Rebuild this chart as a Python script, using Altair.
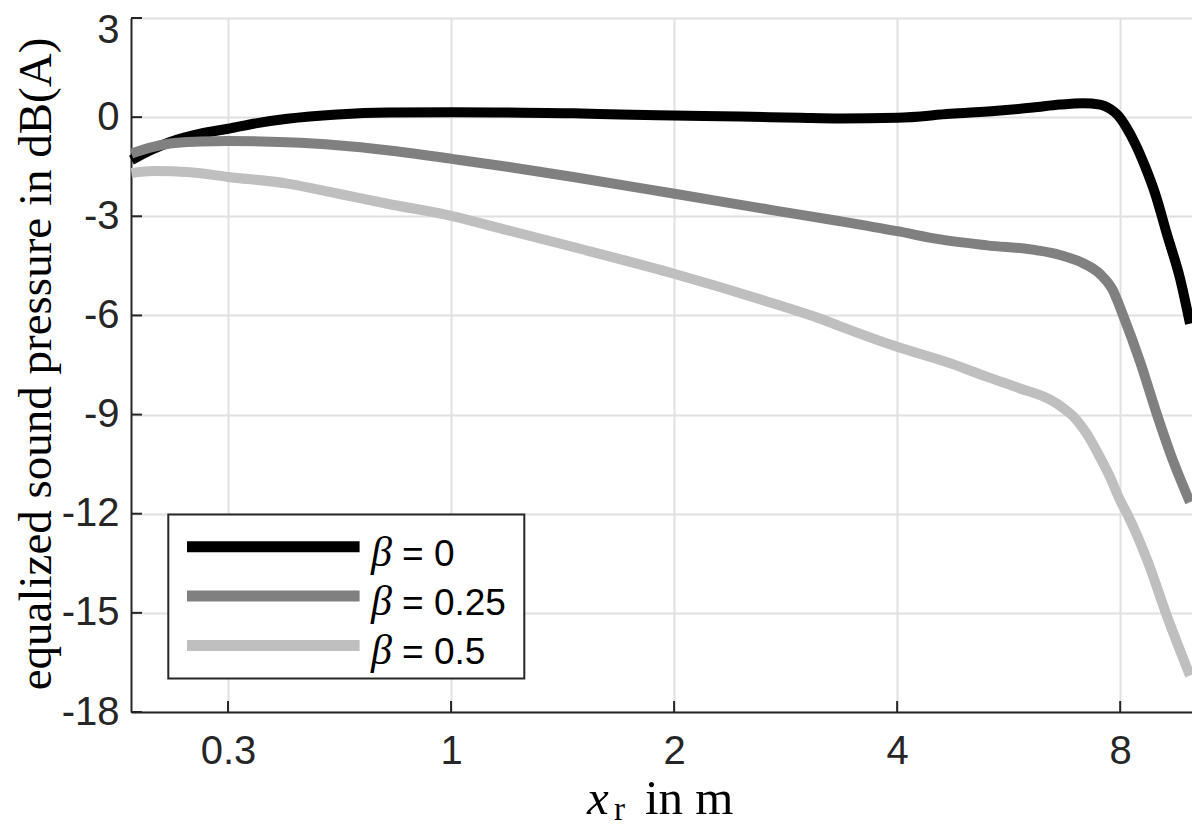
import altair as alt
import pandas as pd

# ---------------- data ----------------
betas = ["0", "0.25", "0.5"]
colors = ["#000000", "#808080", "#bfbfbf"]

# x positions in axis units (tick i sits at position i)
x_tick_pos = [0, 1, 2, 3, 4]
x_tick_labels = ["0.3", "1", "2", "4", "8"]
y_ticks = [-18, -15, -12, -9, -6, -3, 0, 3]

b0_x = [-0.433, -0.348, -0.259, -0.124, 0.0, 0.131, 0.266, 0.49, 0.714, 1.01,
        1.252, 1.548, 1.758, 1.996, 2.296, 2.566, 2.745, 3.0, 3.238, 3.462,
        3.609, 3.73, 3.834, 3.91, 3.955, 3.991, 4.027, 4.067, 4.112, 4.156,
        4.21, 4.269, 4.313]
b0_y = [-1.3, -1.0, -0.75, -0.5, -0.35, -0.18, -0.05, 0.08, 0.14, 0.15,
        0.14, 0.12, 0.08, 0.05, 0.02, -0.02, -0.04, -0.02, 0.1, 0.2,
        0.29, 0.38, 0.42, 0.38, 0.25, 0.05, -0.3, -0.8, -1.5, -2.3,
        -3.55, -4.9, -6.25]

b25_x = [-0.433, -0.335, -0.259, -0.124, 0.0, 0.266, 0.49, 0.714, 1.01, 1.252,
         1.548, 1.996, 2.446, 2.745, 3.0, 3.193, 3.403, 3.627, 3.73, 3.834,
         3.91, 3.964, 4.013, 4.089, 4.165, 4.237, 4.313]
b25_y = [-1.1, -0.9, -0.8, -0.74, -0.72, -0.76, -0.85, -1.0, -1.27, -1.5,
         -1.81, -2.31, -2.82, -3.15, -3.45, -3.7, -3.88, -4.03, -4.17, -4.42,
         -4.75, -5.2, -6.0, -7.4, -9.0, -10.4, -11.65]

b50_x = [-0.433, -0.335, -0.169, 0.0, 0.266, 0.49, 0.714, 1.01, 1.252, 1.548,
         1.996, 2.446, 2.656, 2.745, 3.0, 3.238, 3.403, 3.551, 3.686, 3.744,
         3.789, 3.852, 3.91, 3.955, 4.0, 4.031, 4.121, 4.21, 4.313]
b50_y = [-1.69, -1.63, -1.67, -1.81, -2.01, -2.31, -2.62, -3.0, -3.42, -3.93,
         -4.73, -5.64, -6.1, -6.33, -6.95, -7.45, -7.86, -8.21, -8.55, -8.8,
         -9.05, -9.6, -10.3, -10.9, -11.6, -12.0, -13.4, -15.1, -16.9]

series_x = [b0_x, b25_x, b50_x]
series_y = [b0_y, b25_y, b50_y]

# ---------------- layout ----------------
W, H = 1061, 694
AX = "#262626"
SANS = "Liberation Sans"
SERIF = "Liberation Serif"

xscale = alt.Scale(domain=[-0.435, 4.322], nice=False, zero=False)
yscale = alt.Scale(domain=[-18, 3], nice=False, zero=False)

label_expr = "[" + ",".join(f"'{l}'" for l in x_tick_labels) + "][datum.value]"

xaxis = alt.Axis(values=x_tick_pos, labelExpr=label_expr, title=None,
                 ticks=False, tickSize=0, labelPadding=19, labelFontSize=40,
                 labelFont=SANS, labelColor=AX, grid=True, domain=True,
                 labelFlush=False, labelOverlap=False)
yaxis = alt.Axis(values=y_ticks, labelExpr="'' + datum.value", title=None,
                 ticks=False, tickSize=0, labelPadding=12, labelFontSize=40,
                 labelFont=SANS, labelColor=AX, grid=True, domain=True,
                 labelOverlap=False, labelFlush=False,
                 labelOffset={"condition": {"test": "datum.value == 3", "value": 12},
                              "value": 0})


def X(field):
    return alt.X(field, type="quantitative", scale=xscale, axis=xaxis)


def Y(field):
    return alt.Y(field, type="quantitative", scale=yscale, axis=yaxis)


layers = []
for b, c, xs, ys in zip(betas, colors, series_x, series_y):
    df = pd.DataFrame({"x": xs, "y": ys, "beta": b})
    layers.append(
        alt.Chart(df).mark_line(color=c, strokeWidth=10, interpolate="monotone",
                                strokeCap="butt", strokeJoin="round")
        .encode(x=X("x"), y=Y("y"))
    )

# inward tick marks (MATLAB style)
xt = pd.DataFrame({"t": x_tick_pos})
layers.append(
    alt.Chart(xt).mark_rule(color=AX, strokeWidth=2)
    .encode(x=X("t"), y=alt.value(H), y2=alt.value(H - 11))
)
yt = pd.DataFrame({"t": y_ticks})
layers.append(
    alt.Chart(yt).mark_rule(color=AX, strokeWidth=2)
    .encode(y=Y("t"), x=alt.value(0), x2=alt.value(11))
)

# legend box
box = pd.DataFrame({"k": [0]})
layers.append(
    alt.Chart(box).mark_rect(fill="white", stroke=AX, strokeWidth=2)
    .encode(x=alt.value(37.3), x2=alt.value(393.3),
            y=alt.value(496.4), y2=alt.value(660.4))
)
row_y = [528.7, 578.1, 627.4]
for b, c, ry in zip(betas, colors, row_y):
    d = pd.DataFrame({"label": ["= " + b]})
    layers.append(
        alt.Chart(d).mark_rule(color=c, strokeWidth=11)
        .encode(x=alt.value(56), x2=alt.value(228.6), y=alt.value(ry))
    )
    layers.append(
        alt.Chart(d).mark_text(font=SERIF, fontStyle="italic", fontSize=42,
                               align="left", baseline="alphabetic", color="black")
        .encode(x=alt.value(240), y=alt.value(ry + 19), text=alt.value("β"))
    )
    layers.append(
        alt.Chart(d).mark_text(font=SANS, fontSize=37, align="left",
                               baseline="alphabetic", color="black")
        .encode(x=alt.value(271), y=alt.value(ry + 19), text="label:N")
    )

# axis titles
t = pd.DataFrame({"k": [0]})
layers.append(
    alt.Chart(t).mark_text(font=SERIF, fontSize=47, angle=270, align="center",
                           baseline="alphabetic", color="black")
    .encode(x=alt.value(-80), y=alt.value(346),
            text=alt.value("equalized sound pressure in dB(A)"))
)
layers.append(
    alt.Chart(t).mark_text(font=SERIF, fontStyle="italic", fontSize=49,
                           align="left", baseline="alphabetic", color="black")
    .encode(x=alt.value(456), y=alt.value(796), text=alt.value("x"))
)
layers.append(
    alt.Chart(t).mark_text(font=SERIF, fontSize=33, align="left",
                           baseline="alphabetic", color="black")
    .encode(x=alt.value(483), y=alt.value(802), text=alt.value("r"))
)
layers.append(
    alt.Chart(t).mark_text(font=SERIF, fontSize=49, align="left",
                           baseline="alphabetic", color="black")
    .encode(x=alt.value(514), y=alt.value(796), text=alt.value("in m"))
)

chart = (
    alt.layer(*layers)
    .properties(width=W, height=H,
                autosize=alt.AutoSizeParams(type="none"),
                padding={"left": 123, "top": 10, "right": 0, "bottom": 115})
    .configure_view(stroke=None)
    .configure_axis(gridColor="#e0e0e0", gridWidth=2, domainColor=AX,
                    domainWidth=2)
)

chart.save("out.html", embed_options={"renderer": "svg", "actions": False})
